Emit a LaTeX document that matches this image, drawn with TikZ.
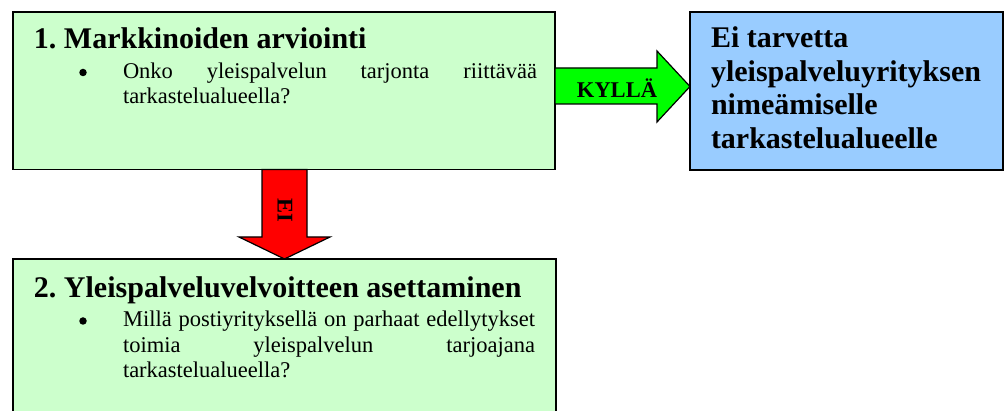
\documentclass[tikz,border=0pt]{standalone}
\usepackage{fontspec}
\setmainfont{Liberation Serif}
\usetikzlibrary{calc}
\definecolor{boxgreen}{HTML}{CCFFCC}
\definecolor{boxblue}{HTML}{99CCFF}
\definecolor{arrowgreen}{HTML}{00FF00}
\definecolor{arrowred}{HTML}{FF0000}
\tikzset{
  box/.style={draw=black, line width=1.5pt, rectangle, inner sep=0pt, outer sep=0pt, anchor=north west},
  blockarrow/.style={draw=black, line width=1.2pt, line join=miter},
  txt/.style={anchor=base west, inner sep=0pt, outer sep=0pt},
  titletxt/.style={txt, font=\fontsize{30}{34}\selectfont\bfseries},
  bodytxt/.style={txt, font=\fontsize{22.5}{25.5}\selectfont},
  bul/.style={circle, fill=black, draw=none, inner sep=0pt, minimum size=7.5pt},
  lbl/.style={inner sep=0pt, font=\fontsize{22.5}{25}\selectfont\bfseries},
}
\begin{document}
\frenchspacing
\begin{tikzpicture}[x=1pt,y=-1pt]
\clip (0,0) rectangle (1005,411);
\fill[white] (0,0) rectangle (1005,411);
% boxes
\node[box, fill=boxgreen, minimum width=542pt, minimum height=157.5pt] (b1) at (13,12) {};
\node[box, fill=boxgreen, minimum width=543pt, minimum height=170pt] (b2) at (13,259) {};
\node[box, fill=boxblue, minimum width=313pt, minimum height=158pt] (b3) at (690,12) {};
% green arrow (KYLLA)
\draw[blockarrow, fill=arrowgreen] (b1.east |- 0,68) -- (657,68) -- (657,51) -- (b3.west |- 0,86.5)
  -- (657,122) -- (657,104) -- (b1.east |- 0,104) -- cycle;
% red arrow (EI)
\draw[blockarrow, fill=arrowred] (262,0 |- b1.south) -- (262,237) -- (239,237) -- (b2.north)
  -- (330,237) -- (307,237) -- (307,0 |- b1.south) -- cycle;
\node[lbl] (kylla) at (617,88) {KYLLÄ};
\node[lbl, rotate=-90] (ei) at (285,210) {EI};
% box 1 text
\node[titletxt] (t1) at (34,49) {1. Markkinoiden arviointi};
\node[bul] (bu1) at (83,72.5) {};
\node[bodytxt] (l1a) at (123,79) {\hbox to 414pt{Onko\hfill yleispalvelun\hfill tarjonta\hfill riittävää}};
\node[bodytxt] (l1b) at (123,104) {tarkastelualueella?};
% box 2 text
\node[titletxt] (t2) at (34,298) {2. Yleispalveluvelvoitteen asettaminen};
\node[bul] (bu2) at (83,321) {};
\node[bodytxt] (l2a) at (123,327) {\hbox to 412pt{Millä\hfill postiyrityksellä\hfill on\hfill parhaat\hfill edellytykset}};
\node[bodytxt] (l2b) at (123,352.5) {\hbox to 412pt{toimia\hfill yleispalvelun\hfill tarjoajana}};
\node[bodytxt] (l2c) at (123,378) {tarkastelualueella?};
% box 3 text
\node[titletxt] (t3a) at (711,48) {Ei tarvetta};
\node[titletxt] (t3b) at (711,81.5) {yleispalveluyrityksen};
\node[titletxt] (t3c) at (711,115) {nimeämiselle};
\node[titletxt] (t3d) at (711,148.5) {tarkastelualueelle};
\end{tikzpicture}
\end{document}
